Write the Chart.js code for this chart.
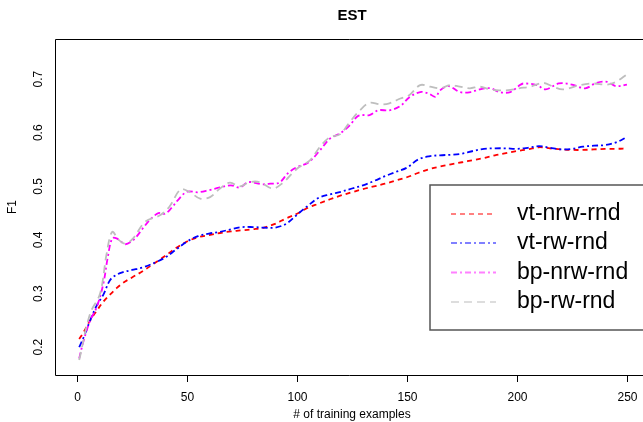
<!DOCTYPE html>
<html>
<head>
<meta charset="utf-8">
<script src="https://cdn.jsdelivr.net/npm/chart.js@4"></script>
<style>
  html, body { margin: 0; padding: 0; background: #fff; }
  #wrap { width: 643px; height: 422px; }
</style>
</head>
<body>
<div id="wrap"><canvas id="chart" width="643" height="422"></canvas></div>
<script>
// values
const seriesNames = ['vt-nrw-rnd', 'vt-rw-rnd', 'bp-nrw-rnd', 'bp-rw-rnd'];
const xTicks = [0, 50, 100, 150, 200, 250];
const yTicks = [0.2, 0.3, 0.4, 0.5, 0.6, 0.7];

const vtNrwX = [1, 3, 6, 9, 12, 15, 18, 21, 25, 30, 35, 40, 45, 50, 55, 60, 65, 70, 75, 80, 85, 90, 95, 100,
  105, 110, 115, 120, 125, 130, 135, 140, 145, 150, 155, 160, 165, 170, 175, 180, 185, 190, 195, 200,
  205, 210, 215, 220, 225, 230, 235, 240, 245, 250];
const vtNrwY = [0.215, 0.228, 0.25, 0.268, 0.285, 0.298, 0.31, 0.32, 0.33, 0.342, 0.356, 0.37, 0.385, 0.397,
  0.405, 0.409, 0.413, 0.416, 0.418, 0.42, 0.423, 0.43, 0.44, 0.449, 0.46, 0.468, 0.476, 0.483, 0.489, 0.495,
  0.5, 0.505, 0.511, 0.517, 0.525, 0.532, 0.537, 0.541, 0.545, 0.549, 0.553, 0.558, 0.562, 0.566, 0.569,
  0.573, 0.571, 0.569, 0.568, 0.568, 0.569, 0.57, 0.57, 0.571];

const vtRwX = vtNrwX;
const vtRwY = [0.20, 0.218, 0.25, 0.278, 0.298, 0.325, 0.335, 0.34, 0.344, 0.349, 0.357, 0.367, 0.382, 0.397,
  0.407, 0.412, 0.415, 0.42, 0.424, 0.424, 0.423, 0.423, 0.43, 0.447, 0.464, 0.479, 0.485, 0.49, 0.496, 0.502,
  0.51, 0.519, 0.527, 0.535, 0.55, 0.556, 0.558, 0.559, 0.561, 0.566, 0.57, 0.571, 0.571, 0.57, 0.572,
  0.575, 0.572, 0.569, 0.57, 0.574, 0.576, 0.577, 0.582, 0.592];

const bpNrwX = [1, 3, 6, 9, 12, 14, 16, 18, 20, 22, 25, 27, 30, 33, 37, 40, 43, 46, 50, 55, 60, 65, 70, 74, 78,
  84, 88, 92, 96, 100, 105, 110, 115, 120, 124, 128, 133, 137, 142, 147, 151, 156, 160, 163, 165, 169, 174,
  179, 183, 188, 192, 197, 201, 203, 209, 213, 219, 225, 231, 236, 241, 245, 250];
const bpNrwY = [0.179, 0.212, 0.25, 0.275, 0.319, 0.368, 0.403, 0.403, 0.397, 0.392, 0.398, 0.406, 0.422,
  0.437, 0.45, 0.449, 0.46, 0.475, 0.49, 0.489, 0.493, 0.498, 0.502, 0.498, 0.508, 0.504, 0.505, 0.507, 0.525,
  0.536, 0.544, 0.565, 0.589, 0.6, 0.614, 0.632, 0.633, 0.642, 0.642, 0.65, 0.666, 0.676, 0.673, 0.667, 0.679,
  0.687, 0.676, 0.676, 0.681, 0.683, 0.676, 0.676, 0.688, 0.692, 0.689, 0.681, 0.692, 0.69, 0.683, 0.693,
  0.695, 0.687, 0.69];

const bpRwX = [1, 6, 10.5, 13.5, 16, 19, 22, 25.5, 31, 37.7, 42, 47, 51, 56, 60.5, 65, 69.5, 74, 78.6, 83, 89,
  94, 98, 101, 106, 110.5, 115, 119.5, 124, 128.6, 133, 137.7, 142, 147, 151, 156, 160.5, 165, 169.5, 174,
  178.6, 183, 187.7, 192, 197, 201, 206, 212, 216.5, 221, 228.6, 234.5, 241, 245, 250];
const bpRwY = [0.176, 0.263, 0.30, 0.375, 0.415, 0.40, 0.393, 0.403, 0.434, 0.446, 0.462, 0.494, 0.49, 0.477,
  0.48, 0.496, 0.507, 0.50, 0.508, 0.508, 0.496, 0.508, 0.525, 0.536, 0.549, 0.574, 0.592, 0.597, 0.62, 0.642,
  0.656, 0.653, 0.655, 0.664, 0.67, 0.689, 0.686, 0.683, 0.689, 0.686, 0.683, 0.686, 0.681, 0.679, 0.68,
  0.683, 0.686, 0.693, 0.686, 0.681, 0.689, 0.692, 0.69, 0.695, 0.709];

const colors = ['#ff0000', '#0000ff', '#ff00ff', '#bebebe'];
const legendColors = ['#ff8080', '#8080ff', '#ff80ff', '#dddddd'];
const dashes = [[5, 4], [6, 3, 2, 3], [6, 3, 2, 3], [8, 5]];

const pts = (xs, ys) => xs.map((x, i) => ({ x: x, y: ys[i] }));
const allData = [pts(vtNrwX, vtNrwY), pts(vtRwX, vtRwY), pts(bpNrwX, bpNrwY), pts(bpRwX, bpRwY)];

const FONT = '"Liberation Sans", Arial, sans-serif';

const rPlot = {
  id: 'rPlot',
  afterDraw(chart) {
    const ctx = chart.ctx;
    const a = chart.chartArea;
    const xs = chart.scales.x, ys = chart.scales.y;
    ctx.save();
    ctx.strokeStyle = '#000';
    ctx.lineWidth = 1;
    ctx.setLineDash([]);
    // box (right side runs off the canvas)
    ctx.beginPath();
    ctx.moveTo(a.right + 10, a.top + 0.5);
    ctx.lineTo(a.left + 0.5, a.top + 0.5);
    ctx.lineTo(a.left + 0.5, a.bottom + 0.5);
    ctx.lineTo(a.right + 10, a.bottom + 0.5);
    ctx.stroke();

    // x ticks + labels
    ctx.fillStyle = '#000';
    ctx.font = '12px ' + FONT;
    ctx.textAlign = 'center';
    ctx.textBaseline = 'alphabetic';
    xTicks.forEach(t => {
      const px = Math.round(xs.getPixelForValue(t)) + 0.5;
      ctx.beginPath();
      ctx.moveTo(px, a.bottom);
      ctx.lineTo(px, a.bottom + 7);
      ctx.stroke();
      ctx.fillText(String(t), px, 401);
    });
    ctx.fillText('# of training examples', (a.left + 649) / 2, 418);

    // y labels, rotated
    yTicks.forEach(t => {
      const py = ys.getPixelForValue(t);
      ctx.save();
      ctx.translate(42, py);
      ctx.rotate(-Math.PI / 2);
      ctx.fillText(t.toFixed(1), 0, 0);
      ctx.restore();
    });
    ctx.save();
    ctx.translate(16, (a.top + a.bottom) / 2);
    ctx.rotate(-Math.PI / 2);
    ctx.fillText('F1', 0, 0);
    ctx.restore();

    // title
    ctx.font = 'bold 15px ' + FONT;
    ctx.fillText('EST', (a.left + 649) / 2, 20);

    // legend
    const lx = 430, ly = 185;
    ctx.fillStyle = '#fff';
    ctx.fillRect(lx, ly, 260, 145);
    ctx.strokeStyle = '#555';
    ctx.lineWidth = 1.5;
    ctx.strokeRect(lx, ly, 260, 145);
    const rows = [214, 243, 272.5, 302];
    ctx.font = '23px ' + FONT;
    ctx.textAlign = 'left';
    ctx.textBaseline = 'middle';
    seriesNames.forEach((name, i) => {
      ctx.strokeStyle = legendColors[i];
      ctx.lineWidth = 2;
      ctx.setLineDash(dashes[i]);
      ctx.beginPath();
      ctx.moveTo(451, rows[i]);
      ctx.lineTo(496, rows[i]);
      ctx.stroke();
      ctx.setLineDash([]);
      ctx.fillStyle = '#000';
      ctx.fillText(name, 517, rows[i]);
    });
    ctx.restore();
  }
};

new Chart(document.getElementById('chart'), {
  type: 'line',
  data: {
    datasets: seriesNames.map((name, i) => ({
      label: name,
      data: allData[i],
      borderColor: colors[i],
      borderDash: dashes[i],
      borderWidth: 1.8,
      pointRadius: 0,
      tension: 0.35,
      fill: false,
      order: 3 - i
    }))
  },
  options: {
    responsive: false,
    animation: false,
    layout: { padding: { left: 55, top: 39, right: 0, bottom: 47 } },
    plugins: { legend: { display: false }, tooltip: { enabled: false } },
    scales: {
      x: { type: 'linear', min: -10, max: 257.3, display: false },
      y: { type: 'linear', min: 0.148, max: 0.775, display: false }
    }
  },
  plugins: [rPlot]
});
</script>
</body>
</html>
